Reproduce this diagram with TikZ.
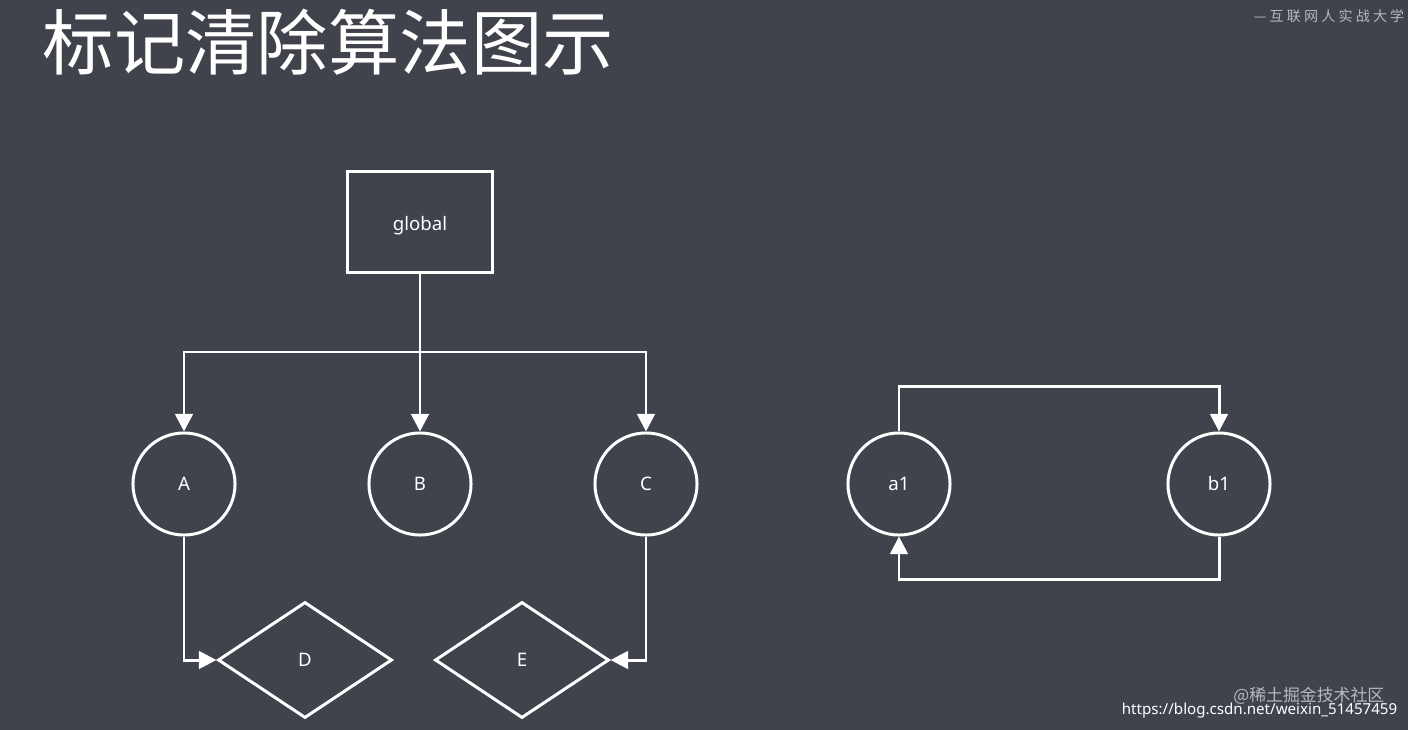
\documentclass[tikz,border=0pt]{standalone}
\usepackage{fontspec}
\setmainfont{Noto Sans}
\newfontfamily\cjk{Noto Sans CJK SC}
\usetikzlibrary{shapes.geometric,arrows.meta}
\definecolor{bg}{HTML}{40424C}
\definecolor{wm}{HTML}{B8B9BE}
\begin{document}
\begin{tikzpicture}[x=0.01cm,y=-0.01cm,
  every node/.style={text=white,font=\fontsize{5.3}{6}\selectfont},
  ln/.style={draw=white,line width=0.85pt},
  arr/.style={ln,-{Triangle[length=5pt,width=5pt]}},
  circ/.style={ln,circle,minimum size=1.02cm,inner sep=0pt},
  dia/.style={ln,diamond,minimum width=1.74cm,minimum height=1.16cm,inner sep=0pt,aspect=1.5}]
\fill[bg] (0,0) rectangle (1408,730);
\useasboundingbox (0,0) rectangle (1408,730);
\node[anchor=west,inner sep=0pt,font=\cjk\fontsize{20.3}{22}\selectfont] (title) at (42,42) {标记清除算法图示};
\node[anchor=east,inner sep=0pt,font=\cjk\fontsize{4}{5}\selectfont,text=wm] (brand) at (1405,16) {— 互 联 网 人 实 战 大 学};
\node[ln,minimum width=1.45cm,minimum height=1.01cm,text depth=0pt,text height=5pt] (g) at (420,222) {global};
\node[circ] (A) at (184,484) {A};
\node[circ] (B) at (420,484) {B};
\node[circ] (C) at (646,484) {C};
\node[circ] (a1) at (899,484) {a1};
\node[circ] (b1) at (1219,484) {b1};
\node[dia] (D) at (305,660) {D};
\node[dia] (E) at (522,660) {E};
\coordinate (j) at (420,352);
\draw[ln] (g.south) -- (j);
\draw[arr] (j) -| (A.north);
\draw[arr] (j) -- (B.north);
\draw[arr] (j) -| (C.north);
\draw[arr] (A.south) |- (D.west);
\draw[arr] (C.south) |- (E.east);
\draw[arr] (a1.north) -- ++(0,-45) -| (b1.north);
\draw[arr] (b1.south) -- ++(0,43) -| (a1.south);
\node[anchor=east,inner sep=0pt,font=\cjk\fontsize{4.8}{5}\selectfont,text=wm] (w1) at (1385,696) {@稀土掘金技术社区};
\node[anchor=east,inner sep=0pt,font=\fontsize{4.3}{5}\selectfont,text=white] (w2) at (1398,711) {https://blog.csdn.net/weixin\_51457459};
\end{tikzpicture}
\end{document}
